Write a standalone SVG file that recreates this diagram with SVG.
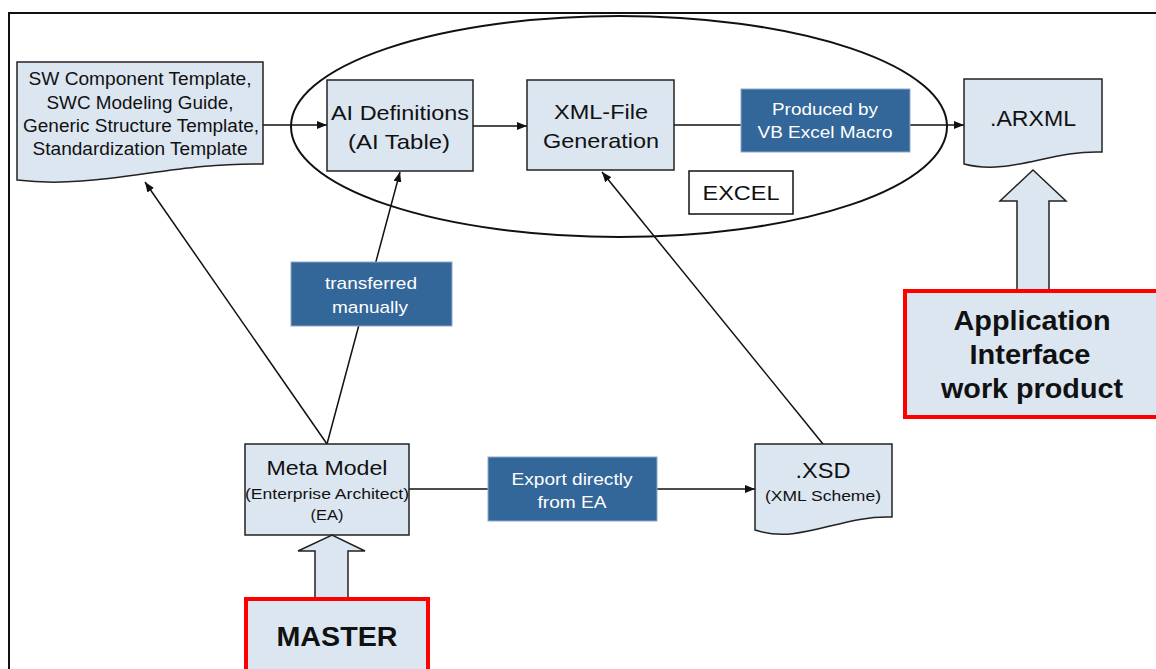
<svg xmlns="http://www.w3.org/2000/svg" width="1156" height="669" viewBox="0 0 1156 669">
<style>
.doc{fill:#DCE6F1;stroke:#222;stroke-width:1.5}
.box{fill:#DCE6F1;stroke:#222;stroke-width:1.5}
.lbl{fill:#336699;stroke:#8fa9c8;stroke-width:1}
.red{fill:#DCE6F1;stroke:#FF0000;stroke-width:4}
.blk{fill:#DCE6F1;stroke:#222;stroke-width:1.5}
text{font-family:"Liberation Sans",Arial,sans-serif;text-anchor:middle;fill:#111}
.w{fill:#fff;font-size:17px}
.b{font-weight:bold;font-size:27px}
.ln{stroke:#111;stroke-width:1.5;fill:none}
</style>
<defs>
<marker id="ah" markerWidth="10" markerHeight="8" refX="10" refY="4" orient="auto" markerUnits="userSpaceOnUse">
<path d="M0,0 L10,4 L0,8 Z" fill="#111"/>
</marker>
</defs>
<rect x="9" y="13" width="1200" height="700" fill="none" stroke="#111" stroke-width="2"/>
<g id="excel-ellipse">
<ellipse cx="619" cy="126.5" rx="328" ry="110.5" fill="none" stroke="#111" stroke-width="2"/>
</g>
<g id="connectors">
<line class="ln" x1="263" y1="125" x2="327" y2="125" marker-end="url(#ah)"/>
<line class="ln" x1="473" y1="126" x2="527" y2="126" marker-end="url(#ah)"/>
<line class="ln" x1="674" y1="125" x2="964" y2="125" marker-end="url(#ah)"/>
<line class="ln" x1="327" y1="444" x2="145" y2="182" marker-end="url(#ah)"/>
<line class="ln" x1="327" y1="444" x2="400" y2="172" marker-end="url(#ah)"/>
<line class="ln" x1="823" y1="444" x2="602" y2="172" marker-end="url(#ah)"/>
<line class="ln" x1="409" y1="489" x2="755" y2="489" marker-end="url(#ah)"/>
</g>
<g id="sw-templates">
<path class="doc" d="M17,62 H263 V164 C170,162 98,190 17,180 Z"/>
<text x="140" y="85" font-size="17.5" textLength="223" lengthAdjust="spacingAndGlyphs">SW Component Template,</text>
<text x="140" y="109" font-size="17.5" textLength="187" lengthAdjust="spacingAndGlyphs">SWC Modeling Guide,</text>
<text x="141" y="132" font-size="17.5" textLength="236" lengthAdjust="spacingAndGlyphs">Generic Structure Template,</text>
<text x="140" y="155" font-size="17.5" textLength="215" lengthAdjust="spacingAndGlyphs">Standardization Template</text>
</g>
<g id="ai-definitions">
<rect class="box" x="327" y="80" width="146" height="91"/>
<text x="400" y="120" font-size="21" textLength="138" lengthAdjust="spacingAndGlyphs">AI Definitions</text>
<text x="399" y="149" font-size="21" textLength="102" lengthAdjust="spacingAndGlyphs">(AI Table)</text>
</g>
<g id="xml-generation">
<rect class="box" x="527" y="80" width="147" height="90"/>
<text x="601" y="119" font-size="21" textLength="94" lengthAdjust="spacingAndGlyphs">XML-File</text>
<text x="601" y="148" font-size="21" textLength="116" lengthAdjust="spacingAndGlyphs">Generation</text>
</g>
<g id="produced-by">
<rect class="lbl" x="741" y="89" width="169" height="63"/>
<text class="w" x="825" y="115" textLength="106" lengthAdjust="spacingAndGlyphs">Produced by</text>
<text class="w" x="825" y="138" textLength="135" lengthAdjust="spacingAndGlyphs">VB Excel Macro</text>
</g>
<g id="excel-label">
<rect x="689" y="171" width="104" height="43" fill="#fff" stroke="#111" stroke-width="1.5"/>
<text x="741" y="200" font-size="21" textLength="77" lengthAdjust="spacingAndGlyphs">EXCEL</text>
</g>
<g id="arxml">
<path class="doc" d="M964,79 H1102 V152 C1050,150 1010,176 964,164 Z"/>
<text x="1033" y="126" font-size="22" textLength="86" lengthAdjust="spacingAndGlyphs">.ARXML</text>
</g>
<g id="arxml-arrow">
<path class="blk" d="M1017,291 V201 H1000 L1033,170 L1066,201 H1049 V291 Z"/>
</g>
<g id="app-interface">
<rect class="red" x="905" y="291" width="260" height="126"/>
<text class="b" x="1032" y="330" textLength="157" lengthAdjust="spacingAndGlyphs">Application</text>
<text class="b" x="1030" y="364" textLength="121" lengthAdjust="spacingAndGlyphs">Interface</text>
<text class="b" x="1032" y="398" textLength="182" lengthAdjust="spacingAndGlyphs">work product</text>
</g>
<g id="transferred">
<rect class="lbl" x="291" y="262" width="161" height="64"/>
<text class="w" x="371" y="289" textLength="92" lengthAdjust="spacingAndGlyphs">transferred</text>
<text class="w" x="370" y="313" textLength="76" lengthAdjust="spacingAndGlyphs">manually</text>
</g>
<g id="meta-model">
<rect class="box" x="245" y="444" width="164" height="91"/>
<text x="327" y="475" font-size="21" textLength="121" lengthAdjust="spacingAndGlyphs">Meta Model</text>
<text x="327" y="499" font-size="15" textLength="164" lengthAdjust="spacingAndGlyphs">(Enterprise Architect)</text>
<text x="327" y="520" font-size="15" textLength="33" lengthAdjust="spacingAndGlyphs">(EA)</text>
</g>
<g id="export">
<rect class="lbl" x="488" y="457" width="169" height="64"/>
<text class="w" x="572" y="485" textLength="121" lengthAdjust="spacingAndGlyphs">Export directly</text>
<text class="w" x="572" y="508" textLength="69" lengthAdjust="spacingAndGlyphs">from EA</text>
</g>
<g id="xsd">
<path class="doc" d="M755,444 H892 V517 C840,515 800,545 755,530 Z"/>
<text x="823" y="478" font-size="22" textLength="55" lengthAdjust="spacingAndGlyphs">.XSD</text>
<text x="823" y="501" font-size="15.5" textLength="116" lengthAdjust="spacingAndGlyphs">(XML Scheme)</text>
</g>
<g id="master-arrow">
<path class="blk" d="M315,598 V551 H298 L332,535 L365,551 H348 V598 Z"/>
</g>
<g id="master">
<rect class="red" x="246" y="599" width="182" height="100"/>
<text class="b" x="337" y="646" textLength="121" lengthAdjust="spacingAndGlyphs">MASTER</text>
</g>
</svg>
